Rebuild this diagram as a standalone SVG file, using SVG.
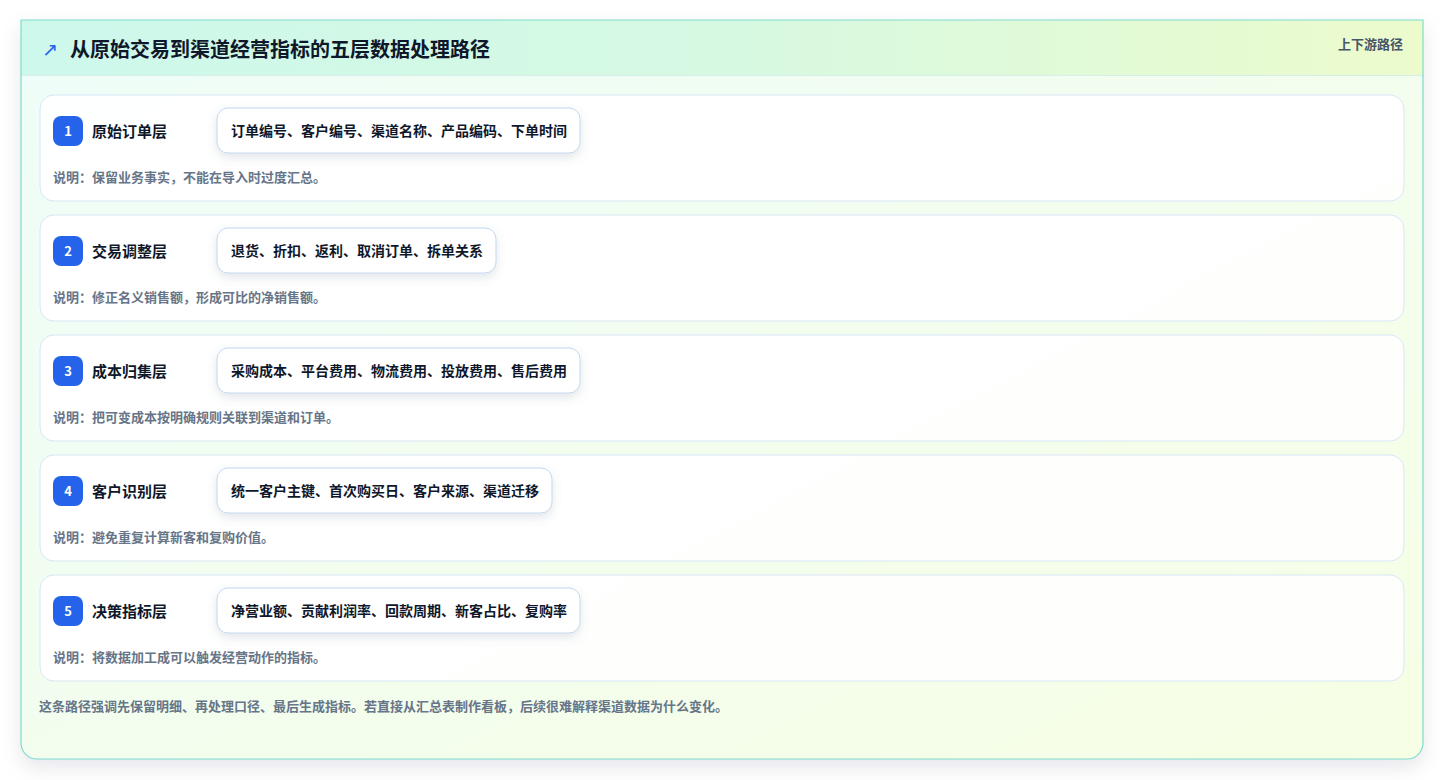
<svg xmlns="http://www.w3.org/2000/svg" width="1444" height="780" viewBox="0 0 1444 780">
<defs>
<linearGradient id="bodyGrad" x1="0" y1="0" x2="1" y2="1">
<stop offset="0" stop-color="#effdf9"/>
<stop offset="1" stop-color="#f6fee4"/>
</linearGradient>
<linearGradient id="headGrad" x1="0" y1="0" x2="1" y2="0">
<stop offset="0" stop-color="#cdf8ec"/>
<stop offset="0.5" stop-color="#d6f9e2"/>
<stop offset="1" stop-color="#ecfbcc"/>
</linearGradient>
<filter id="outerShadow" x="-5%" y="-5%" width="110%" height="115%">
<feDropShadow dx="0" dy="8" stdDeviation="10" flood-color="#0f172a" flood-opacity="0.10"/>
</filter>
<filter id="pillShadow" x="-10%" y="-30%" width="120%" height="180%">
<feDropShadow dx="0" dy="4" stdDeviation="5" flood-color="#64748b" flood-opacity="0.18"/>
</filter>
<clipPath id="cardClip">
<path d="M21 20 H1423 V743 A16 16 0 0 1 1407 759 H37 A16 16 0 0 1 21 743 Z"/>
</clipPath>
</defs>
<style>
text { font-family: "Noto Sans CJK SC", "Noto Sans", "Liberation Sans", sans-serif; }
.title { font-size: 20px; font-weight: 700; fill: #0f172a; }
.tag { font-size: 13px; font-weight: 600; fill: #475569; }
.layer { fill: #ffffff; fill-opacity: 0.9; stroke: #d8e7f6; stroke-width: 1; }
.badge { fill: #2563eb; }
.num { font-size: 13px; font-weight: 700; fill: #ffffff; text-anchor: middle; }
.name { font-size: 15px; font-weight: 700; fill: #0f172a; }
.pill { fill: #ffffff; stroke: #c3d7f2; stroke-width: 1; filter: url(#pillShadow); }
.field { font-size: 14px; font-weight: 700; fill: #0f172a; }
.desc { font-size: 13px; font-weight: 700; fill: #677589; }
.foot { font-size: 13px; font-weight: 700; fill: #677589; }
</style>
<rect width="1444" height="780" fill="#ffffff"/>
<g id="frame">
<path d="M21 20 H1423 V743 A16 16 0 0 1 1407 759 H37 A16 16 0 0 1 21 743 Z" fill="url(#bodyGrad)" filter="url(#outerShadow)"/>
<g clip-path="url(#cardClip)">
<rect x="21" y="20" width="1402" height="55" fill="url(#headGrad)"/>
<line x1="21" y1="75.5" x2="1423" y2="75.5" stroke="#d5efea" stroke-width="1"/>
</g>
<path d="M21 20 H1423 V743 A16 16 0 0 1 1407 759 H37 A16 16 0 0 1 21 743 Z" fill="none" stroke="#7fdccc" stroke-width="1.2"/>
</g>
<g id="header">
<text x="42" y="56" font-size="19" fill="#2563eb" style="font-family:'DejaVu Sans',sans-serif">↗</text>
<text class="title" x="70" y="57">从原始交易到渠道经营指标的五层数据处理路径</text>
<text class="tag" x="1403" y="49" text-anchor="end">上下游路径</text>
</g>
<g id="layer1">
<rect class="layer" x="40" y="95" width="1364" height="106" rx="14"/>
<rect class="badge" x="53" y="116" width="30" height="30" rx="8"/>
<text class="num" x="68" y="136">1</text>
<text class="name" x="92" y="137">原始订单层</text>
<rect class="pill" x="217" y="108" width="363" height="45" rx="11"/>
<text class="field" x="231" y="136">订单编号、客户编号、渠道名称、产品编码、下单时间</text>
<text class="desc" x="53" y="182">说明：保留业务事实，不能在导入时过度汇总。</text>
</g>
<g id="layer2">
<rect class="layer" x="40" y="215" width="1364" height="106" rx="14"/>
<rect class="badge" x="53" y="236" width="30" height="30" rx="8"/>
<text class="num" x="68" y="256">2</text>
<text class="name" x="92" y="257">交易调整层</text>
<rect class="pill" x="217" y="228" width="279" height="45" rx="11"/>
<text class="field" x="231" y="256">退货、折扣、返利、取消订单、拆单关系</text>
<text class="desc" x="53" y="302">说明：修正名义销售额，形成可比的净销售额。</text>
</g>
<g id="layer3">
<rect class="layer" x="40" y="335" width="1364" height="106" rx="14"/>
<rect class="badge" x="53" y="356" width="30" height="30" rx="8"/>
<text class="num" x="68" y="376">3</text>
<text class="name" x="92" y="377">成本归集层</text>
<rect class="pill" x="217" y="348" width="363" height="45" rx="11"/>
<text class="field" x="231" y="376">采购成本、平台费用、物流费用、投放费用、售后费用</text>
<text class="desc" x="53" y="422">说明：把可变成本按明确规则关联到渠道和订单。</text>
</g>
<g id="layer4">
<rect class="layer" x="40" y="455" width="1364" height="106" rx="14"/>
<rect class="badge" x="53" y="476" width="30" height="30" rx="8"/>
<text class="num" x="68" y="496">4</text>
<text class="name" x="92" y="497">客户识别层</text>
<rect class="pill" x="217" y="468" width="335" height="45" rx="11"/>
<text class="field" x="231" y="496">统一客户主键、首次购买日、客户来源、渠道迁移</text>
<text class="desc" x="53" y="542">说明：避免重复计算新客和复购价值。</text>
</g>
<g id="layer5">
<rect class="layer" x="40" y="575" width="1364" height="106" rx="14"/>
<rect class="badge" x="53" y="596" width="30" height="30" rx="8"/>
<text class="num" x="68" y="616">5</text>
<text class="name" x="92" y="617">决策指标层</text>
<rect class="pill" x="217" y="588" width="363" height="45" rx="11"/>
<text class="field" x="231" y="616">净营业额、贡献利润率、回款周期、新客占比、复购率</text>
<text class="desc" x="53" y="662">说明：将数据加工成可以触发经营动作的指标。</text>
</g>
<g id="connectors"></g>
<g id="footer">
<text class="foot" x="39" y="711">这条路径强调先保留明细、再处理口径、最后生成指标。若直接从汇总表制作看板，后续很难解释渠道数据为什么变化。</text>
</g>
</svg>
